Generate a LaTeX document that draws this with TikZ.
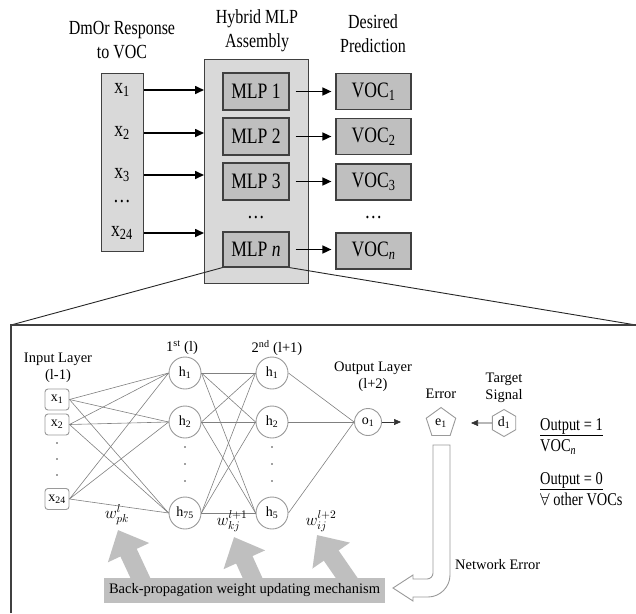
\documentclass[tikz,border=0pt]{standalone}
\usepackage{fontspec}
\usepackage{graphicx}
\setmainfont{Liberation Serif}
\newfontfamily\tf[FakeStretch=0.8]{Liberation Serif}
\usetikzlibrary{arrows.meta,shapes.geometric,calc}
\definecolor{lightfill}{HTML}{D9D9D9}
\definecolor{midfill}{HTML}{BFBFBF}
\definecolor{boxline}{HTML}{404040}
\definecolor{netline}{HTML}{808080}
\definecolor{circline}{HTML}{9A9A9A}
\definecolor{dotc}{HTML}{404040}
\begin{document}
\begin{tikzpicture}[x=1pt,y=-1pt,
  toptitle/.style={font=\tf\fontsize{20}{24}\selectfont, align=center, inner sep=0pt},
  toptxt/.style={font=\tf\fontsize{22}{24}\selectfont, inner sep=0pt},
  bigbox/.style={draw=boxline, line width=1.2pt, fill=lightfill, inner sep=0pt, anchor=north west},
  mlpbox/.style={draw=boxline, line width=1.2pt, fill=midfill, minimum width=66pt, minimum height=37pt, inner sep=0pt, font=\tf\fontsize{22}{24}\selectfont},
  vocbox/.style={draw=boxline, line width=1.2pt, fill=midfill, minimum width=75pt, minimum height=36pt, inner sep=0pt, font=\tf\fontsize{22}{24}\selectfont},
  toparrow/.style={-{Triangle[length=9pt,width=8pt]}, line width=1.6pt},
  lowtxt/.style={font=\fontsize{14.5}{17}\selectfont, align=center, inner sep=0pt},
  inbox/.style={draw=circline, fill=white, rounded corners=3pt, minimum width=24pt, minimum height=21pt, inner sep=0pt, line width=0.9pt, font=\fontsize{14}{16}\selectfont},
  neuron/.style={circle, draw=circline, fill=white, line width=0.9pt, minimum size=32pt, inner sep=0pt, font=\fontsize{14}{16}\selectfont},
  wire/.style={draw=netline, line width=0.6pt},
  smallarrow/.style={-{Triangle[length=7pt,width=6pt]}, line width=0.6pt, draw=black!80},
  grayarrow/.style={draw=midfill, line width=18pt, -{Triangle[length=25pt,width=44pt]}},
  wlabel/.style={font=\fontsize{14.4}{17}\selectfont, inner sep=0pt},
  rtxt/.style={font=\tf\fontsize{18}{20}\selectfont, inner sep=0pt, anchor=west}
]
\useasboundingbox (0,0) rectangle (636,613);

% ---------------- top part ----------------
\node[toptitle] (t1) at (122,40) {DmOr Response\\to VOC};
\node[toptitle] (t2) at (257,30.5) {Hybrid MLP\\Assembly};
\node[toptitle] (t3) at (373,34) {Desired\\Prediction};

\node[bigbox, minimum width=42pt, minimum height=178pt] (xbox) at (101,73) {};
\node[bigbox, minimum width=104pt, minimum height=224pt] (hyb) at (204,59) {};

\node[toptxt] (xl1) at (122,90) {x\textsubscript{1}};
\node[toptxt] (xl2) at (122,133) {x\textsubscript{2}};
\node[toptxt] (xl3) at (122,175) {x\textsubscript{3}};
\node[toptxt] (xld) at (122,202) {\ldots};
\node[toptxt] (xl24) at (122,233) {x\textsubscript{24}};

\node[mlpbox] (m1) at (256,91.5) {MLP 1};
\node[mlpbox] (m2) at (256,136.5) {MLP 2};
\node[mlpbox] (m3) at (256,181.5) {MLP 3};
\node[toptxt] (md) at (256,218) {\ldots};
\node[mlpbox, minimum height=35pt] (mn) at (256,249.5) {MLP \textit{n}};

\node[vocbox] (v1) at (373.5,91.5) {VOC\textsubscript{1}};
\node[vocbox] (v2) at (373.5,136.5) {VOC\textsubscript{2}};
\node[vocbox] (v3) at (373.5,182) {VOC\textsubscript{3}};
\node[toptxt] (vd) at (373.5,218) {\ldots};
\node[vocbox] (vn) at (373.5,251) {VOC\textsubscript{\textit{n}}};

\foreach \a in {xl1,xl2,xl3,xl24}
  \draw[toparrow] (xbox.east |- \a) -- (hyb.west |- \a);
\foreach \a/\b in {m1/v1,m2/v2,m3/v3,mn/vn}
  \draw[toparrow, shorten <=6pt, shorten >=4pt] (\a.east) -- (\a.east -| \b.west);

% zoom lines and lower frame
\coordinate (zl) at (11,325);
\coordinate (zr) at (636,325);
\coordinate (zb) at (11,613);
\draw[line width=0.9pt, draw=black!85] (mn.south west) -- (zl);
\draw[line width=0.9pt, draw=black!85] (mn.south east) -- (zr);
\draw[line width=1.1pt, draw=black!75] (zb) -- (zl) -- (zr);

% ---------------- lower part ----------------
\node[lowtxt] (inl) at (58,367.5) {Input Layer\\(l-1)};
\node[lowtxt] (l1l) at (182,348) {1\textsuperscript{st} (l)};
\node[lowtxt] (l2l) at (277,348) {2\textsuperscript{nd} (l+1)};
\node[lowtxt] (oll) at (373,376.5) {Output Layer\\(l+2)};
\node[lowtxt] (erl) at (441,394) {Error};
\node[lowtxt] (tsl) at (504,387.5) {Target\\Signal};

\node[inbox] (i1) at (57,399.5) {x\textsubscript{1}};
\node[inbox] (i2) at (57,424.5) {x\textsubscript{2}};
\node[inbox] (i24) at (57,499) {x\textsubscript{24}};
\node[neuron] (a1) at (185,373) {h\textsubscript{1}};
\node[neuron] (a2) at (185,422) {h\textsubscript{2}};
\node[neuron] (a75) at (185,513) {h\textsubscript{75}};
\node[neuron] (b1) at (272,373) {h\textsubscript{1}};
\node[neuron] (b2) at (272,422) {h\textsubscript{2}};
\node[neuron] (b5) at (272,513) {h\textsubscript{5}};
\node[neuron, minimum size=27pt] (o1) at (368,422) {o\textsubscript{1}};

\foreach \s in {i1,i2,i24}
  \foreach \t in {a1,a2,a75}
    \draw[wire] (\s.east) -- (\t.west);
\foreach \s in {a1,a2,a75}
  \foreach \t in {b1,b2,b5}
    \draw[wire] (\s.east) -- (\t.west);
\foreach \s in {b1,b2,b5}
  \draw[wire] (\s.east) -- (o1.west);

% dots
\foreach \y in {443,459,475} \fill[dotc] (57,\y) circle (0.9pt);
\foreach \y in {447,464,481} \fill[dotc] (185,\y) circle (0.9pt);
\foreach \y in {447,464,481} \fill[dotc] (272,\y) circle (0.9pt);

% error / target
\node[regular polygon, regular polygon sides=5, draw=circline, fill=white, line width=0.9pt, minimum size=31pt, inner sep=0pt, font=\fontsize{14}{16}\selectfont] (e1) at (441,423) {e\textsubscript{1}};
\node[regular polygon, regular polygon sides=6, shape border rotate=30, draw=circline, fill=white, line width=0.9pt, minimum size=27pt, inner sep=0pt, font=\fontsize{14}{16}\selectfont] (d1) at (504,423) {d\textsubscript{1}};
\coordinate (oe) at (401,422);
\coordinate (de) at (471,423);
\draw[smallarrow] (o1.east) -- (oe);
\draw[smallarrow] (d1.west) -- (de);

% weights
\node[wlabel] (w1) at (117,515) {\scalebox{1.15}{$w^{l}_{pk}$}};
\node[wlabel] (w2) at (232,521) {\scalebox{1.15}{$w^{l+1}_{kj}$}};
\node[wlabel] (w3) at (321,521) {\scalebox{1.15}{$w^{l+2}_{ij}$}};

% gray arrows and back-propagation box
\coordinate (g1s) at (146,590); \coordinate (g1t) at (118,530);
\coordinate (g2s) at (258,590); \coordinate (g2t) at (234,537);
\coordinate (g3s) at (355,590); \coordinate (g3t) at (317,535);
\draw[grayarrow] (g1s) -- (g1t);
\draw[grayarrow] (g2s) -- (g2t);
\draw[grayarrow] (g3s) -- (g3t);
\node[fill=midfill, minimum width=281pt, minimum height=25pt, inner sep=0pt, font=\fontsize{14.5}{17}\selectfont] (bp) at (244.5,590.5) {Back-propagation weight updating mechanism};

% network error U-arrow
\draw[draw=circline, fill=white, line width=0.9pt]
  (433,445) -- (450,445) -- (450,575) .. controls (450,587) and (440,597) .. (428,597)
  -- (413,597) -- (413,601) -- (393,588) -- (413,575) -- (413,579) -- (427,579)
  .. controls (430.3,579) and (433,576.3) .. (433,573) -- cycle;
\node[lowtxt, anchor=west] (ne) at (455,565) {Network Error};

% outputs text
\node[rtxt] (r1) at (540,427) {\underline{Output = 1}};
\node[rtxt] (r2) at (540,447) {VOC\textsubscript{\textit{n}}};
\node[rtxt] (r3) at (540,481) {\underline{Output = 0}};
\node[rtxt] (r4) at (540,499) {$\forall$ other VOCs};
\end{tikzpicture}
\end{document}
